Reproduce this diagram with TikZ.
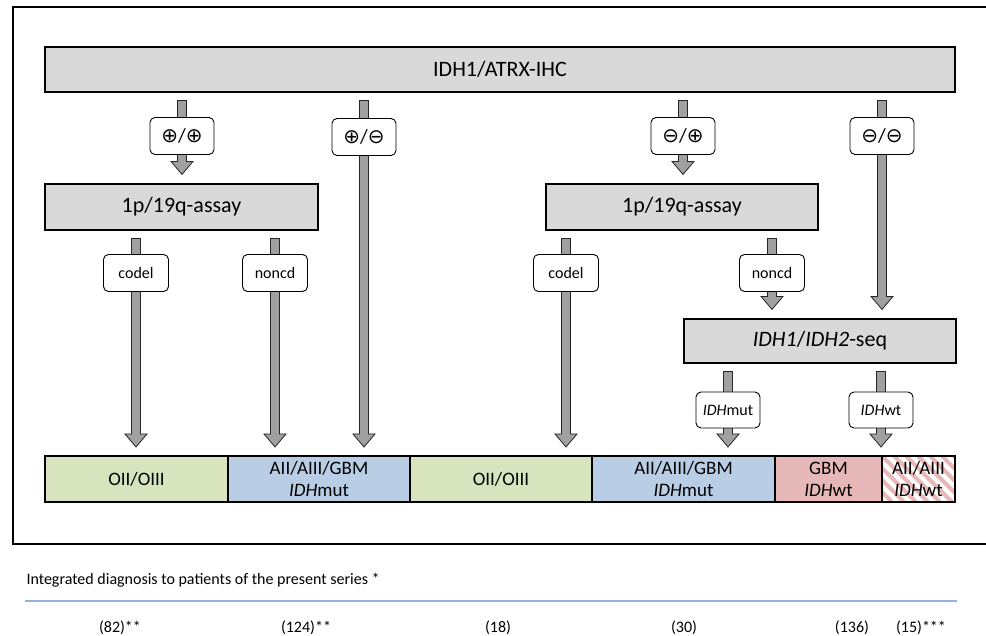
\documentclass[tikz,border=0pt]{standalone}
\usepackage{fontspec}
\setmainfont{Carlito}
\newfontfamily\symfont{DejaVu Sans}
\usetikzlibrary{positioning, calc}
\pgfdeclarelayer{background}
\pgfsetlayers{background,main}
\definecolor{boxgray}{RGB}{217,217,217}
\definecolor{arrgray}{RGB}{160,160,160}
\definecolor{oligreen}{RGB}{215,228,189}
\definecolor{astblue}{RGB}{185,205,229}
\definecolor{gbmred}{RGB}{230,185,184}
\definecolor{rulblue}{RGB}{149,179,215}

% block arrow behind the labels, from #1 (start) to #2 (target)
\newcommand{\blkarrow}[2]{%
  \begin{pgfonlayer}{background}
  \draw[blkarr] let \p1=(#1), \p2=(#2) in
    (\x1-4.5pt,\y1-8pt) -- (\x1+4.5pt,\y1-8pt) -- (\x1+4.5pt,\y2+22pt)
    -- (\x1+11pt,\y2+22pt) -- (\x1,\y2+9pt) -- (\x1-11pt,\y2+22pt)
    -- (\x1-4.5pt,\y2+22pt) -- cycle;
  \end{pgfonlayer}}
\newcommand{\pl}{{\symfont ⊕}}
\newcommand{\mi}{{\symfont ⊖}}

\begin{document}
\begin{tikzpicture}
[x=1pt, y=-1pt,
 stepbox/.style={rectangle, draw, line width=1.1pt, fill=boxgray, inner sep=2pt,
   font=\fontsize{22}{26}\selectfont},
 lab/.style={rectangle, draw, line width=0.9pt, fill=white, rounded corners=5pt,
   inner sep=2pt, minimum width=64, minimum height=37, font=\fontsize{16}{19}\selectfont},
 sgn/.style={lab, font=\fontsize{20}{24}\selectfont},
 seg/.style={rectangle, draw, line width=1.1pt, inner sep=1pt, outer sep=0pt,
   minimum height=46, align=center, font=\fontsize{19}{22}\selectfont},
 blkarr/.style={draw=black!85, line width=0.8pt, fill=arrgray},
 every text node part/.style={align=center}]

\useasboundingbox (0,0) rectangle (986,636);

% outer frame
\draw[line width=1.2pt] (995,7) -| (13,544) -- (995,544);

% test boxes
\node[stepbox, minimum width=910, minimum height=45] (ihc) at (500,69.5) {IDH1/ATRX-IHC};
\node[stepbox, minimum width=273, minimum height=46] (assayL) at (181.5,207) {1p/19q-assay};
\node[stepbox, minimum width=272, minimum height=46] (assayR) at (682,207) {1p/19q-assay};
\node[stepbox, minimum width=272, minimum height=44] (seq) at (820,341) {\textit{IDH1}/\textit{IDH2}-seq};

% diagnosis bar
\node[seg, fill=oligreen, minimum width=183] (s1) at (136.5,479) {OII/OIII};
\node[seg, fill=astblue, minimum width=182, right=0pt of s1] (s2) {AII/AIII/GBM\\\textit{IDH}mut};
\node[seg, fill=oligreen, minimum width=182, right=0pt of s2] (s3) {OII/OIII};
\node[seg, fill=astblue, minimum width=183, right=0pt of s3] (s4) {AII/AIII/GBM\\\textit{IDH}mut};
\node[seg, fill=gbmred, minimum width=107, right=0pt of s4] (s5) {GBM\\\textit{IDH}wt};
\node[seg, minimum width=73, right=0pt of s5] (s6) {AII/AIII\\\textit{IDH}wt};
\begin{pgfonlayer}{background}
  \begin{scope}
    \clip (s6.north west) rectangle (s6.south east);
    \foreach \k in {-60,-48,...,84}
      \draw[gbmred, line width=4pt] ($(s6.north west)+(\k,0)$) -- ++(46,46);
  \end{scope}
\end{pgfonlayer}

% branch labels
\node[sgn] (pp) at (182,136) {\pl/\pl};
\node[sgn] (pm) at (364,137) {\pl/\mi};
\node[sgn] (mp) at (683,136) {\mi/\pl};
\node[sgn] (mm) at (882,136) {\mi/\mi};
\node[lab, minimum width=65] (cdL) at (136,273) {codel};
\node[lab, minimum width=65] (ncL) at (275,273) {noncd};
\node[lab, minimum width=65] (cdR) at (566,273) {codel};
\node[lab, minimum width=65] (ncR) at (772,273) {noncd};
\node[lab, minimum height=36] (mut) at (728,410) {\textit{IDH}mut};
\node[lab, minimum height=36] (wt) at (881,410) {\textit{IDH}wt};

% arrows
\blkarrow{pp |- ihc.south}{pp |- assayL.north}
\blkarrow{pm |- ihc.south}{pm |- s2.north}
\blkarrow{mp |- ihc.south}{mp |- assayR.north}
\blkarrow{mm |- ihc.south}{mm |- seq.north}
\blkarrow{cdL |- assayL.south}{cdL |- s1.north}
\blkarrow{ncL |- assayL.south}{ncL |- s2.north}
\blkarrow{cdR |- assayR.south}{cdR |- s3.north}
\blkarrow{ncR |- assayR.south}{ncR |- seq.north}
\blkarrow{mut |- seq.south}{mut |- s4.north}
\blkarrow{wt |- seq.south}{wt |- s6.north}

% patient numbers
\node[anchor=west, font=\fontsize{16}{19}\selectfont] (title) at (23,580)
  {Integrated diagnosis to patients of the present series *};
\coordinate (rulL) at (25,601);
\coordinate (rulR) at (957,601);
\draw[rulblue, line width=1.3pt] (rulL) -- (rulR);
\foreach \xx/\nn [count=\i] in {120/(82)**, 306/(124)**, 498/(18), 684/(30), 852/(136), 921/(15)***}
  \node[font=\fontsize{16}{19}\selectfont] (n\i) at (\xx,628) {\nn};

\end{tikzpicture}
\end{document}
